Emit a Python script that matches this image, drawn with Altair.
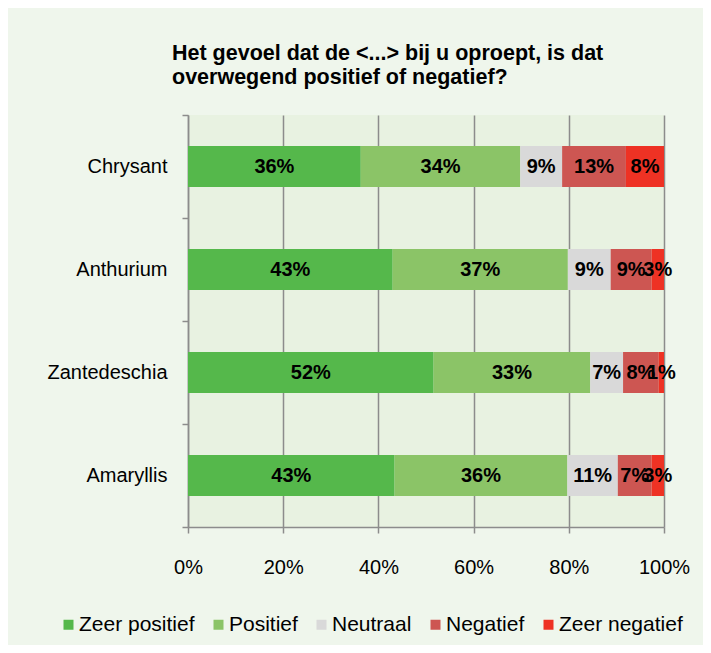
import altair as alt
import pandas as pd

categories = ["Chrysant", "Anthurium", "Zantedeschia", "Amaryllis"]
responses = ["Zeer positief", "Positief", "Neutraal", "Negatief", "Zeer negatief"]
colors = ["#55b84b", "#8bc467", "#d9d9d9", "#cd5652", "#ee3224"]

chrysant = [36.3, 33.5, 8.8, 13.4, 8.0]
anthurium = [43.0, 36.8, 9.0, 8.6, 2.6]
zantedeschia = [51.6, 32.9, 6.9, 7.5, 1.1]
amaryllis = [43.4, 36.3, 10.6, 7.1, 2.6]

title_lines = ["Het gevoel dat de <...> bij u oproept, is dat",
               "overwegend positief of negatief?"]
x_ticks = [0, 0.2, 0.4, 0.6, 0.8, 1.0]

series = dict(zip(categories, [chrysant, anthurium, zantedeschia, amaryllis]))
rows = []
for cat in categories:
    for i, (resp, v) in enumerate(zip(responses, series[cat])):
        rows.append({"category": cat, "response": resp, "value": v, "idx": i})
df = pd.DataFrame(rows)

FONT = "Liberation Sans, Arial, sans-serif"

y_enc = alt.Y(
    "category:N", sort=categories,
    scale=alt.Scale(paddingInner=0, paddingOuter=0),
    axis=alt.Axis(title=None, tickBand="extent", tickSize=6, tickColor="#8c8c8c",
                  tickWidth=1.5, domainColor="#8c8c8c", domainWidth=1.5,
                  labelFontSize=20, labelFont=FONT, labelColor="#000000",
                  labelPadding=15, grid=False),
)
x_axis = alt.Axis(title=None, values=x_ticks, format=".0%", grid=True,
                  gridColor="#8c8c8c", gridWidth=1.5, tickSize=6, tickColor="#8c8c8c",
                  tickWidth=1.5, domainColor="#8c8c8c", domainWidth=1.5,
                  labelFontSize=20, labelFont=FONT, labelColor="#000000",
                  labelPadding=24, labelFlush=False)

base = alt.Chart(df)

bars = base.mark_bar(size=41).encode(
    y=y_enc,
    x=alt.X("value:Q", stack="normalize", scale=alt.Scale(domain=[0, 1]), axis=x_axis),
    color=alt.Color("response:N", scale=alt.Scale(domain=responses, range=colors),
                    legend=alt.Legend(title=None, orient="none", legendX=-130, legendY=499,
                                      direction="horizontal", symbolType="square",
                                      symbolSize=100, symbolStrokeWidth=0,
                                      labelFontSize=21, labelFont=FONT, labelColor="#000000",
                                      labelOffset=0, columnPadding=13)),
    order=alt.Order("idx:Q"),
)

labels = base.transform_stack(
    stack="value", groupby=["category"], sort=[alt.SortField("idx")],
    as_=["v0", "v1"], offset="normalize"
).transform_calculate(
    mid="(datum.v0 + datum.v1) / 2",
    label="format(datum.value, '.0f') + '%'",
).mark_text(fontSize=20, fontWeight="bold", font=FONT, color="#000000").encode(
    y=alt.Y("category:N", sort=categories),
    x=alt.X("mid:Q", scale=alt.Scale(domain=[0, 1])),
    text="label:N",
)

chart = alt.layer(bars, labels).properties(
    width=476, height=412,
    title=alt.TitleParams(text=title_lines, anchor="start", frame="group", dx=-16, offset=17,
                          fontSize=21.5, font=FONT, fontWeight="bold", color="#000000",
                          lineHeight=24),
    autosize=alt.AutoSizeParams(type="none"),
    padding={"left": 180, "top": 107, "right": 39, "bottom": 118},
    background="#eff6ec",
).configure_view(fill="#e8f2e1", stroke=None)

chart.save("out.html", embed_options={"renderer": "svg", "actions": False})
